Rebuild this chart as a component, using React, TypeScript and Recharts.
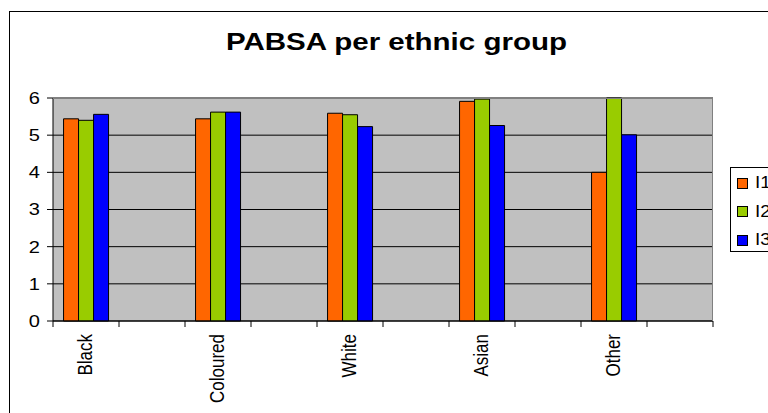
import React from "react";
import {
  BarChart,
  Bar,
  XAxis,
  YAxis,
  CartesianGrid,
  Legend,
} from "recharts";

// 10 slots: each ethnic group is followed by an empty slot, as in the original sheet
const categories = ["Black", "", "Coloured", "", "White", "", "Asian", "", "Other", ""];
const i1 = [5.44, null, 5.44, null, 5.59, null, 5.91, null, 4.0, null];
const i2 = [5.4, null, 5.62, null, 5.55, null, 5.97, null, 6.0, null];
const i3 = [5.56, null, 5.62, null, 5.23, null, 5.26, null, 5.01, null];
const yTicks = [0, 1, 2, 3, 4, 5, 6];

const data = categories.map((label, i) => ({
  key: `c${i}`,
  label,
  I1: i1[i],
  I2: i2[i],
  I3: i3[i],
}));

const FONT = "'Liberation Sans', Arial, sans-serif";
const TICK_SIZE = 6;
const TICK_MARGIN = 7;
// the original picture is stretched a little horizontally
const STRETCH = 1.18;

function XTick(props: any) {
  const { x, y, payload, index } = props;
  const idx = payload?.index ?? index;
  const half = payload?.offset || 33;
  const axisY = y - TICK_SIZE - TICK_MARGIN;
  const label = categories[idx];
  return (
    <g>
      <line x1={x - half} x2={x - half} y1={axisY} y2={axisY + TICK_SIZE} stroke="#000" />
      {idx === categories.length - 1 && (
        <line x1={x + half} x2={x + half} y1={axisY} y2={axisY + TICK_SIZE} stroke="#000" />
      )}
      {label && (
        <text
          transform={`translate(${x - 1},${y}) rotate(-90) scale(1,${STRETCH})`}
          textAnchor="end"
          dominantBaseline="central"
          fontSize={17}
          fill="#000"
          fontFamily={FONT}
        >
          {label}
        </text>
      )}
    </g>
  );
}

function YTick(props: any) {
  const { x, y, payload } = props;
  return (
    <text
      transform={`translate(${x},${y}) scale(${STRETCH},1)`}
      textAnchor="end"
      dominantBaseline="central"
      fontSize={17}
      fill="#000"
      fontFamily={FONT}
    >
      {payload.value}
    </text>
  );
}

function LegendBox(props: any) {
  const items = props.payload || [];
  return (
    <div
      style={{
        border: "1px solid #000",
        background: "#fff",
        height: 85,
        width: 70,
        boxSizing: "border-box",
        padding: "1px 0 0 6px",
        fontFamily: FONT,
        fontSize: 16,
      }}
    >
      {items.map((it: any) => (
        <div key={it.value} style={{ display: "flex", alignItems: "center", height: 28.5 }}>
          <span
            style={{
              width: 11,
              height: 11,
              boxSizing: "border-box",
              border: "1px solid #000",
              background: it.color,
              marginRight: 7,
            }}
          />
          <span style={{ display: "inline-block", transform: `scaleX(${STRETCH})`, transformOrigin: "left center" }}>
            {it.value}
          </span>
        </div>
      ))}
    </div>
  );
}

export default function App() {
  return (
    <div style={{ position: "relative", width: 768, height: 413, overflow: "hidden", background: "#fff" }}>
      <style>{"body{margin:0}"}</style>
      <BarChart
        width={768}
        height={413}
        data={data}
        margin={{ top: 98, right: 55, left: 0, bottom: 0 }}
        barCategoryGap="16%"
        barGap={0}
        style={{ fontFamily: FONT }}
      >
        <CartesianGrid vertical={false} stroke="#000" fill="#c0c0c0" fillOpacity={1} />
        <XAxis
          dataKey="key"
          height={92}
          interval={0}
          tickLine={false}
          tickSize={TICK_SIZE}
          tickMargin={TICK_MARGIN}
          axisLine={{ stroke: "#000" }}
          tick={<XTick />}
        />
        <YAxis
          width={53}
          domain={[0, 6]}
          ticks={yTicks}
          interval={0}
          tickSize={TICK_SIZE}
          tickMargin={7}
          axisLine={{ stroke: "#000" }}
          tickLine={{ stroke: "#000" }}
          tick={<YTick />}
        />
        <Legend
          layout="horizontal"
          align="center"
          verticalAlign="middle"
          wrapperStyle={{ left: 730, top: 167, width: 70 }}
          content={<LegendBox />}
        />
        <Bar dataKey="I1" name="I1" fill="#ff6600" stroke="#000" isAnimationActive={false} />
        <Bar dataKey="I2" name="I2" fill="#99cc00" stroke="#000" isAnimationActive={false} />
        <Bar dataKey="I3" name="I3" fill="#0000ff" stroke="#000" isAnimationActive={false} />
      </BarChart>
      <svg
        width={768}
        height={413}
        style={{ position: "absolute", left: 0, top: 0, pointerEvents: "none" }}
      >
        <rect x={9.5} y={11.5} width={800} height={500} fill="none" stroke="#000" />
        <line x1={53} x2={713} y1={98.5} y2={98.5} stroke="#808080" />
        <line x1={712.5} x2={712.5} y1={98} y2={321} stroke="#808080" />
        <text
          x={396.5}
          y={50}
          textAnchor="middle"
          fontSize={24}
          fontWeight="bold"
          fontFamily={FONT}
          textLength={341}
          lengthAdjust="spacingAndGlyphs"
        >
          PABSA per ethnic group
        </text>
      </svg>
    </div>
  );
}
